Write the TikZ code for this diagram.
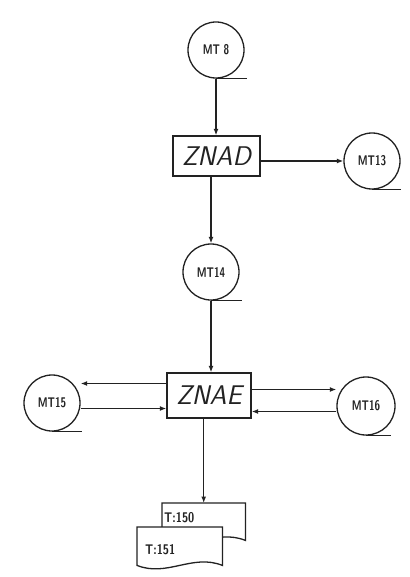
\documentclass[tikz,border=0pt]{standalone}
\usepackage{graphicx}
\usetikzlibrary{arrows.meta,calc}
\definecolor{ink}{HTML}{222222}
\newcommand\tapefont{\fontsize{14}{16}\selectfont\sffamily\bfseries}
\newcommand\procfont{\fontsize{27}{30}\selectfont\sffamily\slshape}
\newcommand\docfont{\fontsize{14}{16}\selectfont\sffamily\bfseries}
\newcommand\mtlab[1]{\scalebox{0.72}[1]{#1}}
\newcommand\tlab[1]{\scalebox{0.8}[1]{#1}}
\begin{document}
\begin{tikzpicture}[x=1pt,y=-1pt,
  line/.style={draw=ink, line width=1.3pt},
  arr/.style={line, -{Latex[length=6.5pt,width=5pt]}},
  tape/.style={circle, draw=ink, line width=1.3pt, minimum size=56pt, inner sep=0pt, font=\tapefont, text=ink},
  proc/.style={rectangle, draw=ink, line width=1.3pt, inner sep=0pt, font=\procfont, text=ink},
  docbox/.style={rectangle, inner sep=0pt, anchor=north west},
  doclabel/.style={font=\docfont, inner sep=0pt, anchor=west, text=ink}
]
\useasboundingbox (0,0) rectangle (409,577);

% nodes
\node[tape] (mt8) at (216,50) {\mtlab{MT 8}};
\node[proc, minimum width=87pt, minimum height=40pt] (znad) at (216.5,156) {ZNAD};
\node[tape] (mt13) at (372,161) {\mtlab{MT13}};
\node[tape] (mt14) at (211,272) {\mtlab{MT14}};
\node[proc, minimum width=84pt, minimum height=45pt] (znae) at (209,395.5) {ZNAE};
\node[tape] (mt15) at (52,403) {\mtlab{MT15}};
\node[tape, minimum size=58pt] (mt16) at (366,406) {\mtlab{MT16}};

% tape tails
\draw[line] (mt8.south) -- ++(31,0);
\draw[line] (mt13.south) -- ++(29,0);
\draw[line] (mt14.south) -- ++(31,0);
\draw[line] (mt15.south) -- ++(30,0);
\draw[line] (mt16.south) -- ++(25,0);

% documents
\node[docbox, minimum width=83pt, minimum height=37pt] (doc150) at (162,503) {};
\node[docbox, minimum width=85pt, minimum height=38pt] (doc151) at (137,527) {};
\draw[line, fill=white] (doc150.north west) -- (doc150.north east) -- (doc150.south east)
  .. controls ($(doc150.south east)+(-30,-12)$) and ($(doc150.south west)+(30,12)$) .. (doc150.south west) -- cycle;
\node[doclabel] (t150) at ($(doc150.north west)+(2,15)$) {\tlab{T:150}};
\draw[line, fill=white] (doc151.north west) -- (doc151.north east) -- (doc151.south east)
  .. controls ($(doc151.south east)+(-30,-12)$) and ($(doc151.south west)+(30,12)$) .. (doc151.south west) -- cycle;
\node[doclabel] (t151) at ($(doc151.north west)+(8,23)$) {\tlab{T:151}};

% vertical flow
\draw[arr] (mt8.south) -- (mt8.south |- znad.north);
\draw[arr] (mt14.north |- znad.south) -- (mt14.north);
\draw[arr] (mt14.south) -- (mt14.south |- znae.north);
\draw[arr] (doc150.north |- znae.south) -- (doc150.north);

% horizontal flow
\draw[arr] (znad.east |- mt13.west) -- (mt13.west);
\coordinate (a1) at ($(znae.west)+(0,-12)$);
\coordinate (a2) at ($(znae.west)+(0,13)$);
\coordinate (b1) at ($(znae.east)+(0,-6)$);
\coordinate (b2) at ($(znae.east)+(0,16)$);
\draw[arr] (a1) -- (a1 -| mt15.east);
\draw[arr] (a2 -| mt15.east) -- (a2);
\draw[arr] (b1) -- (b1 -| mt16.west);
\draw[arr] (b2 -| mt16.west) -- (b2);
\end{tikzpicture}
\end{document}
